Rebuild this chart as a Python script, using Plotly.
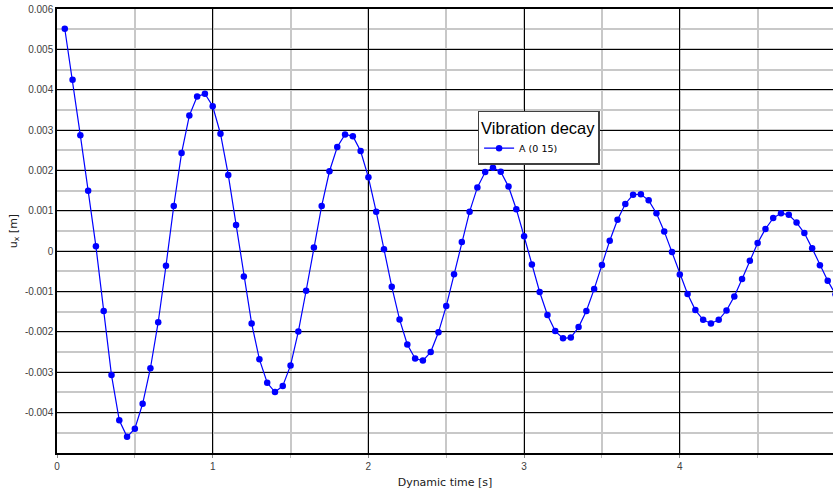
import plotly.graph_objects as go

# time [s]
t = [round(0.05 * i, 2) for i in range(1, 101)]
# displacement u_x [m] (x1e-3)
u_milli = [
    5.51, 4.25, 2.87, 1.50, 0.12, -1.48, -3.07, -4.19, -4.60, -4.40,
    -3.78, -2.90, -1.76, -0.36, 1.12, 2.43, 3.36,
    3.83, 3.90, 3.59, 2.91, 1.89, 0.65, -0.63, -1.79, -2.68, -3.26,
    -3.49, -3.34, -2.83, -1.99, -0.98, 0.09, 1.12, 1.98,
    2.58, 2.89, 2.85, 2.48, 1.83, 0.98, 0.05, -0.88, -1.69, -2.31,
    -2.66, -2.71, -2.50, -2.01, -1.36, -0.57, 0.23,
    0.98, 1.58, 1.96, 2.07, 1.97, 1.60, 1.04, 0.37, -0.33, -1.01,
    -1.58, -1.98, -2.16, -2.14, -1.88, -1.48, -0.94,
    -0.34, 0.26, 0.78, 1.17, 1.40, 1.41, 1.26, 0.94, 0.49, -0.02,
    -0.58, -1.06, -1.46, -1.70, -1.79, -1.70, -1.47, -1.12,
    -0.69, -0.24, 0.20, 0.55, 0.82, 0.94, 0.90, 0.71, 0.45, 0.07,
    -0.35, -0.73, -1.07,
]
u = [v / 1000 for v in u_milli]

y_tick_vals = [0.006, 0.005, 0.004, 0.003, 0.002, 0.001, 0, -0.001, -0.002, -0.003, -0.004]
y_tick_text = ["0.006", "0.005", "0.004", "0.003", "0.002", "0.001", "0",
               "-0.001", "-0.002", "-0.003", "-0.004"]
x_tick_vals = [0, 1, 2, 3, 4]
x_tick_text = ["0", "1", "2", "3", "4"]

fig = go.Figure()
fig.add_trace(go.Scatter(
    x=t, y=u, mode="lines+markers", name="A (0 15)",
    line=dict(color="#0000ff", width=1.2),
    marker=dict(color="#0000ff", size=6.5),
))

tickfont = dict(family="Liberation Sans, Arial, sans-serif", size=10, color="#404040")

fig.update_layout(
    width=833, height=491,
    margin=dict(l=57, r=0, t=9, b=38, autoexpand=False),
    paper_bgcolor="white", plot_bgcolor="white",
    showlegend=True,
    legend=dict(
        title=dict(text="Vibration decay",
                   font=dict(family="Liberation Sans, Arial, sans-serif", size=16.5, color="#000")),
        font=dict(family="DejaVu Sans, sans-serif", size=9.5, color="#000"),
        x=0.542, y=0.771, xanchor="left", yanchor="top",
        bgcolor="white", bordercolor="#404040", borderwidth=1.5,
        itemwidth=30, tracegroupgap=0,
    ),
    xaxis=dict(
        range=[0, 4.984],
        tickvals=x_tick_vals, ticktext=x_tick_text,
        tickfont=tickfont,
        showgrid=True, gridcolor="#000000", gridwidth=1,
        zeroline=False,
        showline=True, linecolor="#000000", linewidth=1.5, mirror=True,
        ticks="outside", ticklen=3, tickcolor="#888",
        minor=dict(dtick=0.5, tick0=0, showgrid=True, gridcolor="#c8c8c8", gridwidth=1.5,
                   ticks="outside", ticklen=3, tickcolor="#bbb"),
        title=dict(text="Dynamic time [s]",
                   font=dict(family="DejaVu Sans, sans-serif", size=11, color="#202020"),
                   standoff=8),
    ),
    yaxis=dict(
        range=[-0.005, 0.006],
        tickvals=y_tick_vals, ticktext=y_tick_text,
        tickfont=tickfont,
        showgrid=True, gridcolor="#000000", gridwidth=1,
        zeroline=False,
        showline=True, linecolor="#000000", linewidth=1.5, mirror=True,
        ticks="",
        minor=dict(dtick=0.0005, tick0=0, showgrid=True, gridcolor="#c8c8c8", gridwidth=1.5),
        title=dict(text="u<sub>x</sub> [m]",
                   font=dict(family="DejaVu Sans, sans-serif", size=11, color="#202020"),
                   standoff=5),
    ),
)

fig.write_html("out.html", config={"displayModeBar": False},
               post_script="document.body.style.margin='0';")
